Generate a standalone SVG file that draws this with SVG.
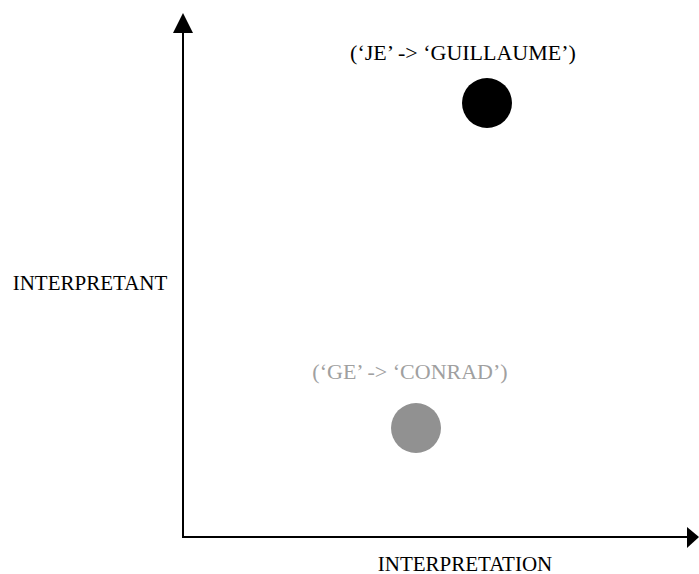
<svg xmlns="http://www.w3.org/2000/svg" width="699" height="574" viewBox="0 0 699 574">
<style>
text{font-family:"Liberation Serif","Times New Roman",serif;font-size:21px;text-anchor:middle}
.lbl{font-size:22px}
.axis{stroke:#000;stroke-width:2;fill:none}
</style>
<rect width="699" height="574" fill="#fff"/>
<g id="axes">
<path class="axis" d="M183,32 V537 H688"/>
<polygon points="183,13 173,33 193,33" fill="#000"/>
<polygon points="699,537 687,527 687,548" fill="#000"/>
</g>
<g id="label-y"><text x="90" y="290">INTERPRETANT</text></g>
<g id="label-x"><text x="465" y="571">INTERPRETATION</text></g>
<g id="node-je">
<text class="lbl" x="463" y="60">(‘JE’ -&gt; ‘GUILLAUME’)</text>
<circle cx="487" cy="103" r="25" fill="#000"/>
</g>
<g id="node-ge">
<text class="lbl" x="410" y="379" fill="#a0a0a0">(‘GE’ -&gt; ‘CONRAD’)</text>
<circle cx="416" cy="428" r="25" fill="#919191"/>
</g>
</svg>
